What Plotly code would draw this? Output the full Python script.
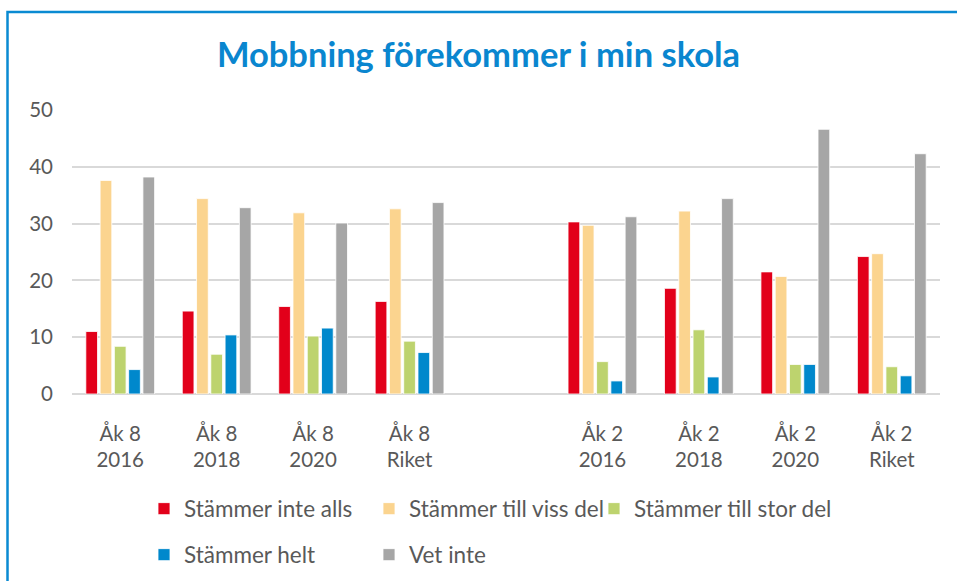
import plotly.graph_objects as go

categories = ["Åk 8<br>2016", "Åk 8<br>2018", "Åk 8<br>2020", "Åk 8<br>Riket", " ",
              "Åk 2<br>2016", "Åk 2<br>2018", "Åk 2<br>2020", "Åk 2<br>Riket"]
series_names = ["Stämmer inte alls", "Stämmer till viss del", "Stämmer till stor del",
                "Stämmer helt", "Vet inte"]
inte_alls = [11.0, 14.6, 15.4, 16.3, None, 30.3, 18.6, 21.5, 24.2]
viss_del = [37.6, 34.4, 31.9, 32.6, None, 29.7, 32.2, 20.7, 24.7]
stor_del = [8.4, 7.0, 10.2, 9.3, None, 5.7, 11.3, 5.2, 4.8]
helt = [4.3, 10.4, 11.6, 7.3, None, 2.3, 3.0, 5.2, 3.2]
vet_inte = [38.2, 32.8, 30.1, 33.7, None, 31.2, 34.4, 46.6, 42.3]
colors = ["#E2001A", "#FBD48F", "#BDD36E", "#0088CC", "#A6A6A6"]
values = [inte_alls, viss_del, stor_del, helt, vet_inte]

W, H = 957, 581
ML, MR, MT, MB = 72, 17, 110, 187
pw, ph = W - ML - MR, H - MT - MB

# legend item positions (square centre x, row centre y) in pixels
legend_pos = [(164, 509), (389, 509), (614, 509), (164, 555), (389, 555)]

font = "Lato, 'Open Sans', sans-serif"
fig = go.Figure()


def px_x(px):
    return (px - ML) / pw


def px_y(py):
    return (H - MB - py) / ph


legend_layout = {}
for i, (name, vals, col, (cx, cy)) in enumerate(zip(series_names, values, colors, legend_pos)):
    lid = "legend" if i == 0 else f"legend{i + 1}"
    fig.add_trace(go.Bar(x=categories, y=vals, name=name, marker_color=col,
                         marker_line=dict(color="rgba(255,255,255,0.8)", width=1),
                         legend=lid, showlegend=True))
    legend_layout[lid] = dict(x=px_x(cx - 20), y=px_y(cy), xanchor="left", yanchor="middle",
                              orientation="h", font=dict(size=22.5, color="#595959"),
                              bgcolor="rgba(0,0,0,0)", borderwidth=0, itemclick=False)

fig.update_layout(
    width=W, height=H,
    showlegend=True,
    margin=dict(l=ML, r=MR, t=MT, b=MB, autoexpand=False),
    paper_bgcolor="white", plot_bgcolor="white",
    barmode="group", bargap=0.26, bargroupgap=0.18,
    font=dict(family=font, color="#595959", size=20),
    title=dict(text="<b>Mobbning förekommer i min skola</b>", x=0.5, xanchor="center",
               y=1 - 55 / H, yanchor="middle",
               font=dict(family=font, size=34.5, color="#0A86CF")),
    xaxis=dict(type="category", showgrid=False, showline=False, ticks="",
               ticklabelstandoff=25,
               tickfont=dict(size=20.5, color="#595959"), zeroline=False),
    yaxis=dict(range=[0, 50], dtick=10, showgrid=True, gridcolor="#D9D9D9", gridwidth=2,
               zeroline=True, zerolinecolor="#D9D9D9", zerolinewidth=2, showline=False,
               ticks="", ticklabelstandoff=18, tickfont=dict(size=20.5, color="#595959")),
    shapes=[dict(type="rect", xref="paper", yref="paper",
                 x0=px_x(7.5), x1=px_x(W + 20), y0=px_y(H + 20), y1=px_y(12),
                 line=dict(color="#0A8AD2", width=2.5), fillcolor="rgba(0,0,0,0)", layer="below")],
    **legend_layout,
)

fig.write_html("out.html", config={"displayModeBar": False},
               post_script="document.body.style.margin='0';document.body.style.overflow='hidden';")
